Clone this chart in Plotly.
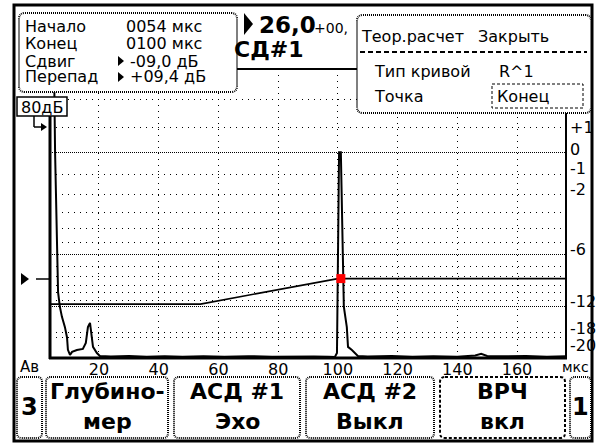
"""Экран дефектоскопа: А-скан с кривой АРД (plotly)"""
import plotly.graph_objects as go

# ---- данные ----
# развертка, мкс / амплитуда (1.0 = 0 дБ)
t_us = [3.7, 4.2, 4.9, 5.3, 5.9, 6.3, 6.9, 7.6, 8.6, 9.3, 9.6, 10.3, 11.0,
        12.6, 14.6, 15.6, 16.3, 17.0, 17.6, 18.0, 19.3, 20.3, 24, 30, 36,
        42, 48, 55, 62, 70, 78, 86, 92, 97, 99.0, 99.7, 99.9, 100.4, 101.0,
        101.4, 101.7, 102.0, 103.0, 103.4, 104.7, 105.7, 106.7, 110, 118,
        125, 132, 140, 146, 148, 150, 156, 163, 170, 176.4]
amp = [1.5, 1.5, 1.5, 1.0, 0.67, 0.32, 0.25, 0.20, 0.15, 0.10, 0.04, 0.015,
       0.03, 0.039, 0.044, 0.073, 0.15, 0.171, 0.10, 0.054, 0.024, 0.010,
       0.007, 0.010, 0.006, 0.009, 0.006, 0.008, 0.006, 0.009, 0.006, 0.008,
       0.007, 0.006, 0.005, 0.024, 0.33, 1.0, 1.0, 0.62, 0.38, 0.25, 0.15,
       0.054, 0.039, 0.024, 0.010, 0.007, 0.010, 0.006, 0.009, 0.006, 0.012,
       0.020, 0.010, 0.008, 0.010, 0.006, 0.008]

# кривая АРД: начало / конец (мкс), уровень
dac_t = [3.6, 54.0, 100.0, 176.4]
dac_a = [0.262, 0.262, 0.386, 0.386]
point_t = [101.0]
point_a = [0.386]

x_ticks = [20, 40, 60, 80, 100, 120, 140, 160]
db_sparse = [2, 1, -1, -2, -3, -4, -5, -7, -8, -9, -10, -11, -18, -20]
db_dense = [0, -6, -12]
db_labels = ["+1", "0", "-1", "-2", "-6", "-12", "-18", "-20"]
db_label_vals = [1, 0, -1, -2, -6, -12, -18, -20]

info_names = ["Начало", "Конец", "Сдвиг", "Перепад"]
info_values = ["0054 мкс", "0100 мкс", "-09,0 дБ", "+09,4 дБ"]

buttons = [("3", ""), ("Глубино-", "мер"), ("АСД #1", "Эхо"),
           ("АСД #2", "Выкл"), ("ВРЧ", "вкл"), ("1", "")]

W, H = 602, 446


def fx(x):
    return x / W


def fy(y):
    return 1 - y / H


def db2a(d):
    return 10 ** (d / 20)


def rrect(x0, y0, x1, y1, r=6):
    rx, ry = r / W, r / H
    a, b, c, d = fx(x0), fy(y0), fx(x1), fy(y1)
    return (f"M{a + rx},{b} L{c - rx},{b} Q{c},{b} {c},{b - ry} "
            f"L{c},{d + ry} Q{c},{d} {c - rx},{d} L{a + rx},{d} "
            f"Q{a},{d} {a},{d + ry} L{a},{b - ry} Q{a},{b} {a + rx},{b} Z")


fig = go.Figure()
fig.add_trace(go.Scatter(x=t_us, y=amp, mode="lines",
                         line=dict(color="black", width=2)))
fig.add_trace(go.Scatter(x=dac_t, y=dac_a, mode="lines",
                         line=dict(color="black", width=1.6)))
fig.add_trace(go.Scatter(x=point_t, y=point_a, mode="markers",
                         marker=dict(color="#ff0000", size=9, symbol="square")))

FONT = "DejaVu Sans"
BOLD = "DejaVu Sans"

fig.update_layout(
    width=W, height=H, margin=dict(l=0, r=0, t=0, b=0),
    paper_bgcolor="white", plot_bgcolor="white", showlegend=False,
    font=dict(family=FONT, color="black", size=15),
    xaxis=dict(domain=[fx(50), fx(566)], range=[3.6, 176.4],
               tickvals=x_ticks, ticks="", showline=False, zeroline=False,
               showgrid=True, gridcolor="black", griddash="1px,5px",
               gridwidth=1, tickfont=dict(size=16), ticklabelstandoff=0),
    yaxis=dict(domain=[fy(358), fy(69)], range=[0, 1.405],
               tickvals=[db2a(d) for d in db_sparse], showticklabels=False,
               ticks="", showline=False, zeroline=False, showgrid=True,
               gridcolor="black", griddash="1px,5px", gridwidth=1),
    yaxis2=dict(domain=[fy(358), fy(69)], range=[0, 1.405], overlaying="y",
                tickvals=[db2a(d) for d in db_dense], showticklabels=False,
                ticks="", showline=False, zeroline=False, showgrid=True,
                gridcolor="black", griddash="1px,1px", gridwidth=1),
)
# пустая трасса, чтобы yaxis2 отрисовал свою сетку
fig.add_trace(go.Scatter(x=[None], y=[None], yaxis="y2"))

shapes = []
ann = []


def line(x0, y0, x1, y1, w=1, dash="solid", color="black"):
    shapes.append(dict(type="line", xref="paper", yref="paper",
                       x0=fx(x0), y0=fy(y0), x1=fx(x1), y1=fy(y1),
                       line=dict(color=color, width=w, dash=dash),
                       layer="above"))


def box(x0, y0, x1, y1, r=6, w=2, dash="1px,1px", fill="white"):
    shapes.append(dict(type="path", xref="paper", yref="paper",
                       path=rrect(x0, y0, x1, y1, r), fillcolor=fill,
                       line=dict(color="black", width=w, dash=dash),
                       layer="above"))


def tri(x, y, w, h):
    p = f"M{fx(x)},{fy(y - h / 2)} L{fx(x + w)},{fy(y)} L{fx(x)},{fy(y + h / 2)} Z"
    shapes.append(dict(type="path", xref="paper", yref="paper", path=p,
                       fillcolor="black", line=dict(width=0), layer="above"))


def text(x, y, s, size=15, anchor="left", family=FONT, bold=False):
    if bold:
        s = f"<b>{s}</b>"
    ann.append(dict(xref="paper", yref="paper", x=fx(x), y=fy(y), text=s,
                    showarrow=False, xanchor=anchor, yanchor="middle",
                    font=dict(size=size, family=family, color="black")))


# рамка экрана и поля графика
shapes.append(dict(type="rect", xref="paper", yref="paper", x0=fx(14),
                   y0=fy(5), x1=fx(592), y1=fy(441),
                   line=dict(color="black", width=3), layer="above"))
line(50, 69, 566, 69, 2)
line(50, 100, 50, 359, 3)
line(566, 100, 566, 359, 2)
line(49, 358, 567, 358, 3)

# левая метка уровня
tri(21, 279, 8, 12)
line(36, 279, 50, 279, 1.5)

# 80 дБ
shapes.append(dict(type="rect", xref="paper", yref="paper", x0=fx(17),
                   y0=fy(97), x1=fx(67), y1=fy(116), fillcolor="white",
                   line=dict(color="black", width=1.5), layer="above"))
text(42, 107, "80дБ", 16, "center")
line(34, 116, 34, 127, 1.5)
line(34, 127, 42, 127, 1.5)
tri(41, 127, 6, 8)

# информационное окно
box(19, 13, 237, 92)
ys = [27, 44, 61, 77]
for i, (n, v) in enumerate(zip(info_names, info_values)):
    text(23, ys[i], n, 16)
    if i < 2:
        text(124, ys[i], v, 16)
    else:
        tri(118, ys[i], 6, 10)
        text(128, ys[i], v, 16)

# значение
tri(244, 24, 9, 22)
text(257, 25, "26,0", 23, bold=True, family=BOLD)
text(312, 28, "+00,", 14)
text(232, 50, "СД#1", 22, bold=True, family=BOLD)

# окно теоретического расчета
box(357, 15, 591, 113)
text(359, 36, "Теор.расчет", 16)
text(476, 36, "Закрыть", 16)
line(360, 52, 587, 52, 2, "5px,3px")
text(372, 71, "Тип кривой", 16)
text(497, 71, "R^1", 16)
text(372, 97, "Точка", 16)
shapes.append(dict(type="rect", xref="paper", yref="paper", x0=fx(492),
                   y0=fy(84), x1=fx(583), y1=fy(108), fillcolor="white",
                   line=dict(color="black", width=1, dash="3px,2px"),
                   layer="above"))
text(495, 97, "Конец", 16)

# подписи шкалы дБ справа
shifts = [0, -3, -6, -5, -5, -5, -4, 8]
for lab, d, s in zip(db_labels, db_label_vals, shifts):
    ann.append(dict(xref="paper", yref="y", x=fx(568), y=db2a(d), text=lab,
                    showarrow=False, xanchor="left", yanchor="middle",
                    yshift=-s, font=dict(size=16, family=FONT)))

text(18, 367, "Ав", 15)
text(575, 367, "мкс", 14, "center")

# кнопки
btn_x = [(17, 42), (46, 168), (174, 300), (306, 434), (440, 565), (570, 591)]
for (x0, x1), (l1, l2) in zip(btn_x, buttons):
    dash = "3px,2px" if l1 == "ВРЧ" else "1px,1px"
    box(x0, 377, x1, 438, 5, 2, dash)
    cx = (x0 + x1) / 2
    if l2:
        text(cx, 391, l1, 22, "center", BOLD, True)
        text(cx, 421, l2, 22, "center", BOLD, True)
    else:
        text(cx, 407, l1, 24, "center", BOLD, True)

fig.update_layout(shapes=shapes, annotations=ann)
fig.write_html("out.html", config={"displayModeBar": False},
               post_script="document.body.style.margin='0';"
                           "document.body.style.overflow='hidden';")
